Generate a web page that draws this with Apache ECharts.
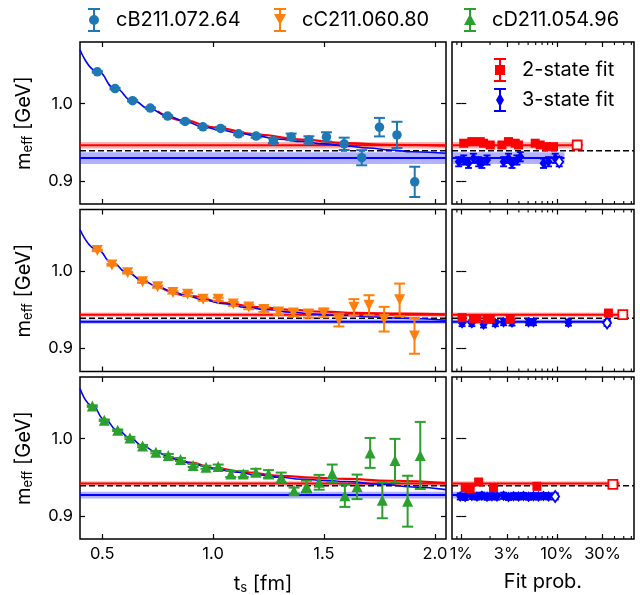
<!DOCTYPE html>
<html><head><meta charset="utf-8">
<script src="https://cdn.jsdelivr.net/npm/echarts@6/dist/echarts.min.js"></script>
<style>html,body{margin:0;padding:0;background:#fff}#c{width:640px;height:595px}</style>
</head><body><div id="c"></div><script>
// ---------------- data ----------------
const ensembles = ['cB211.072.64', 'cC211.060.80', 'cD211.054.96'];
const tsTicks = [0.5, 1.0, 1.5, 2.0];
const mTicks = [0.9, 1.0];
const probTicks = [1, 3, 10, 30];
const probMinor = [0.9, 2, 4, 5, 6, 7, 8, 9, 20, 40, 50, 60];
const nucleonMass = 0.9389;

const tB = [0.478,0.558,0.637,0.717,0.795,0.874,0.954,1.034,1.115,1.194,1.272,1.352,1.432,1.511,1.591,1.670,1.750,1.829,1.909];
const mB = [1.0413,1.0196,1.0039,0.9944,0.984,0.977,0.970,0.968,0.961,0.958,0.952,0.957,0.953,0.957,0.948,0.930,0.9696,0.9596,0.8987];
const eB = [0.001,0.001,0.001,0.001,0.001,0.0015,0.0015,0.002,0.002,0.002,0.003,0.0043,0.0048,0.006,0.008,0.0098,0.012,0.017,0.0196];

const tC = [0.478,0.544,0.615,0.682,0.750,0.819,0.885,0.955,1.023,1.091,1.161,1.229,1.295,1.362,1.430,1.499,1.567,1.635,1.703,1.771,1.841,1.908];
const mC = [1.027,1.0082,0.998,0.9864,0.980,0.9725,0.970,0.9637,0.9637,0.9576,0.9537,0.9503,0.947,0.9458,0.9445,0.9458,0.9367,0.9533,0.9559,0.9378,0.963,0.916];
const eC = [0.001,0.001,0.001,0.0015,0.0015,0.0015,0.002,0.002,0.002,0.0025,0.003,0.003,0.0035,0.004,0.0048,0.0055,0.0083,0.0105,0.013,0.016,0.021,0.023];

const tD = [0.4554,0.5095,0.570,0.625,0.682,0.742,0.798,0.853,0.910,0.968,1.023,1.080,1.136,1.193,1.250,1.307,1.365,1.421,1.478,1.537,1.594,1.649,1.708,1.763,1.820,1.877,1.934];
const mD = [1.0423,1.024,1.011,1.0009,0.9905,0.9826,0.9783,0.9731,0.9653,0.963,0.964,0.9543,0.9543,0.9565,0.9543,0.9496,0.9326,0.938,0.9435,0.955,0.926,0.9376,0.9816,0.9202,0.9718,0.919,0.9783];
const eD = [0.001,0.001,0.001,0.0015,0.0015,0.0015,0.002,0.002,0.002,0.002,0.0025,0.004,0.004,0.0045,0.005,0.0065,0.004,0.0076,0.0096,0.0115,0.0144,0.0159,0.0194,0.0233,0.028,0.033,0.0435];

// fit curves
const fitBlueT_B = [0.4,0.478,0.558,0.637,0.717,0.795,0.874,0.954,1.034,1.115,1.2,1.3,1.4,1.5,1.6,1.7,1.8,1.9,2.05];
const fitBlueM_B = [1.070,1.042,1.020,1.004,0.993,0.984,0.977,0.970,0.966,0.962,0.958,0.954,0.951,0.948,0.9452,0.9425,0.940,0.9378,0.9357];
const fitRedT_B = [0.75,0.874,1.0,1.2,1.4,1.6,1.8,2.05];
const fitRedM_B = [0.990,0.978,0.9695,0.960,0.9535,0.9488,0.9468,0.9458];

const fitBlueT_C = [0.4,0.478,0.544,0.615,0.682,0.75,0.819,0.885,0.955,1.05,1.15,1.25,1.35,1.45,1.55,1.62,1.7,1.85,2.05];
const fitBlueM_C = [1.054,1.028,1.011,0.998,0.988,0.980,0.973,0.968,0.963,0.958,0.953,0.950,0.947,0.9445,0.943,0.9425,0.941,0.939,0.9365];
const fitRedT_C = [0.75,0.9,1.05,1.2,1.35,1.5,1.65,1.85,2.05];
const fitRedM_C = [0.981,0.968,0.959,0.9535,0.950,0.9475,0.946,0.945,0.944];

const fitBlueT_D = [0.4,0.455,0.51,0.57,0.625,0.682,0.742,0.8,0.853,0.91,1.0,1.1,1.2,1.3,1.4,1.5,1.6,1.75,1.9,2.05];
const fitBlueM_D = [1.065,1.043,1.025,1.011,1.001,0.991,0.983,0.977,0.972,0.967,0.961,0.957,0.953,0.950,0.9475,0.946,0.9445,0.941,0.9375,0.934];
const fitRedT_D = [0.8,0.9,1.0,1.15,1.3,1.45,1.6,1.8,2.05];
const fitRedM_D = [0.977,0.969,0.962,0.9565,0.952,0.9495,0.948,0.9455,0.9425];

// final fit results (bands)
const band2Mass = [0.9462, 0.9437, 0.9420];
const band2Err  = [0.0043, 0.0028, 0.0030];
const band3Mass = [0.9295, 0.9346, 0.9269];
const band3Err  = [0.0076, 0.0028, 0.0043];
const band2End  = [18.5, 55, 45];     // % fit prob. where band stops (right panels)
const band3End  = [12, 37, 10.4];

// fit-probability panels: 2-state fits
const p2B = [1.06,1.29,1.58,1.71,2.01,2.66,3.12,3.67,3.97,5.93,6.69,7.86,9.22];
const m2B = [0.9488,0.9509,0.9509,0.9488,0.9465,0.9465,0.9509,0.9488,0.9465,0.9488,0.9465,0.9443,0.9443];
const e2B = [0.003,0.003,0.003,0.003,0.003,0.003,0.003,0.003,0.003,0.003,0.003,0.003,0.003];
const sel2B = [16.3, 0.9465, 0.003];
const p3B = [0.94,1.06,1.19,1.34,1.52,1.64,1.86,2.77,3.12,3.39,3.82,4.14,7.24,8.17,9.6];
const m3B = [0.9248,0.927,0.9227,0.9292,0.9248,0.9227,0.927,0.9248,0.9292,0.9227,0.927,0.9313,0.9227,0.9248,0.9292];
const e3B = [0.006,0.006,0.006,0.006,0.006,0.006,0.006,0.006,0.006,0.006,0.006,0.006,0.006,0.006,0.006];
const sel3B = [10.57, 0.9248, 0.006];

const p2C = [1.02,1.34,1.46,1.86,2.01,3.25,34.6];
const m2C = [0.9398,0.9385,0.9385,0.9376,0.9385,0.9376,0.9458];
const e2C = [0.003,0.003,0.003,0.003,0.003,0.003,0.003];
const sel2C = [48.9, 0.9437, 0.003];
const p3C = [1.02,1.29,1.71,2.27,2.77,3.39,5.05,5.69,13.2];
const m3C = [0.9327,0.9327,0.931,0.9327,0.934,0.9335,0.934,0.934,0.9333];
const e3C = [0.004,0.004,0.004,0.004,0.004,0.004,0.004,0.004,0.004];
const sel3C = [33.5, 0.933, 0.004];

const p2D = [1.10,1.24,1.52,2.17,6.18];
const m2D = [0.9366,0.9352,0.9439,0.9366,0.9383];
const e2D = [0.004,0.004,0.004,0.004,0.004];
const sel2D = [38.5, 0.9409, 0.004];
const p3D = [0.976,1.10,1.29,1.46,1.64,1.86,2.09,2.36,2.77,3.12,3.52,3.97,4.47,5.05,5.69,6.42,7.24,8.17];
const m3D = [0.9252,0.9245,0.9258,0.925,0.9262,0.9248,0.9255,0.925,0.926,0.9245,0.9255,0.925,0.9258,0.9248,0.9255,0.925,0.9258,0.9252];
const e3D = [0.004,0.004,0.004,0.004,0.004,0.004,0.004,0.004,0.004,0.004,0.004,0.004,0.004,0.004,0.004,0.004,0.004,0.004];
const sel3D = [9.6, 0.9252, 0.004];

// ---------------- build ----------------
const FONT = 'Inter';
const TS_MIN = 0.4, TS_MAX = 2.05, M_MIN = 0.87, M_MAX = 1.08, P_MIN = 0.8, P_MAX = 64;
const lg = v => Math.log10(v);
const colors = ['#1f77b4', '#ff7f0e', '#2ca02c'];
const RED = '#ff0000', BLUE = '#0000ff';

const rows = [
  {t:tB, m:mB, e:eB, bt:fitBlueT_B, bm:fitBlueM_B, rt:fitRedT_B, rm:fitRedM_B, symbol:'circle', size:9.5, rot:0,
   p2:p2B, m2:m2B, e2:e2B, s2:sel2B, p3:p3B, m3:m3B, e3:e3B, s3:sel3B},
  {t:tC, m:mC, e:eC, bt:fitBlueT_C, bm:fitBlueM_C, rt:fitRedT_C, rm:fitRedM_C, symbol:'triangle', size:11, rot:180,
   p2:p2C, m2:m2C, e2:e2C, s2:sel2C, p3:p3C, m3:m3C, e3:e3C, s3:sel3C},
  {t:tD, m:mD, e:eD, bt:fitBlueT_D, bm:fitBlueM_D, rt:fitRedT_D, rm:fitRedM_D, symbol:'triangle', size:11, rot:0,
   p2:p2D, m2:m2D, e2:e2D, s2:sel2D, p3:p3D, m3:m3D, e3:e3D, s3:sel3D}
];

const rowTop = [42, 209.5, 377], rowH = 162;
const grids = [], xAxes = [], yAxes = [], series = [];
const tickStyle = {color:'#000', width:1.2};
const TICK_FS = 16.5, NAME_FS = 20, LEG_FS = 20;
const richName = {
  a:{fontSize:NAME_FS, fontFamily:FONT, color:'#000'},
  b:{fontSize:13, fontFamily:FONT, color:'#000', padding:[10,0,0,0]}
};

function addGrid(left, top, width, height){
  grids.push({left, top, width, height, show:true, borderColor:'#000', borderWidth:1.5,
    backgroundColor:'transparent', outerBoundsMode:'none'});
  return grids.length - 1;
}
function addX(o){ xAxes.push(Object.assign({type:'value', axisLine:{show:false}, splitLine:{show:false}}, o)); return xAxes.length - 1; }
function addY(o){ yAxes.push(Object.assign({type:'value', axisLine:{show:false}, splitLine:{show:false}}, o)); return yAxes.length - 1; }

function errSeries(xi, yi, data, color, capW, lw, z){
  return {type:'custom', xAxisIndex:xi, yAxisIndex:yi, z, silent:true, data, encode:{x:0, y:1},
    renderItem:(params, api)=>{
      const x = api.value(0), y = api.value(1), e = api.value(2);
      const a = api.coord([x, y + e]), b = api.coord([x, y - e]);
      const st = {stroke:color, lineWidth:lw};
      return {type:'group', children:[
        {type:'line', shape:{x1:a[0], y1:a[1], x2:b[0], y2:b[1]}, style:st},
        {type:'line', shape:{x1:a[0]-capW/2, y1:a[1], x2:a[0]+capW/2, y2:a[1]}, style:st},
        {type:'line', shape:{x1:b[0]-capW/2, y1:b[1], x2:b[0]+capW/2, y2:b[1]}, style:st}
      ]};
    }};
}
function bandSeries(xi, yi, x0, x1, y, e, color, fill, z){
  return {type:'custom', xAxisIndex:xi, yAxisIndex:yi, z, silent:true, data:[[x0, y, e, x1]], encode:{x:0, y:1},
    renderItem:(params, api)=>{
      const X0 = api.value(0), Y = api.value(1), E = api.value(2), X1 = api.value(3);
      const a = api.coord([X0, Y + E]), b = api.coord([X1, Y - E]);
      const c0 = api.coord([X0, Y]), c1 = api.coord([X1, Y]);
      return {type:'group', children:[
        {type:'rect', shape:{x:a[0], y:a[1], width:b[0]-a[0], height:b[1]-a[1]}, style:{fill}},
        {type:'line', shape:{x1:c0[0], y1:c0[1], x2:c1[0], y2:c1[1]}, style:{stroke:color, lineWidth:2}}
      ]};
    }};
}
// minor ticks of the log axis, placed through the axis scale
function minorTickSeries(xi, yi, vals){
  return {type:'custom', xAxisIndex:xi, yAxisIndex:yi, z:10, silent:true, clip:false,
    data:vals.map(v => [v, M_MIN]), encode:{x:0, y:1},
    renderItem:(params, api)=>{
      const cs = params.coordSys;
      const x = api.coord([api.value(0), api.value(1)])[0];
      const st = {stroke:'#000', lineWidth:1.1};
      return {type:'group', children:[
        {type:'line', shape:{x1:x, y1:cs.y + cs.height, x2:x, y2:cs.y + cs.height - 3}, style:st},
        {type:'line', shape:{x1:x, y1:cs.y, x2:x, y2:cs.y + 3}, style:st}
      ]};
    }};
}
function dashSeries(xi, yi, x0, x1){
  return {type:'line', xAxisIndex:xi, yAxisIndex:yi, z:3, silent:true, symbol:'none',
    data:[[x0, nucleonMass], [x1, nucleonMass]], lineStyle:{color:'#000', width:1.5, type:[6,3]}};
}
const zip = (a, b) => a.map((v, i) => [v, b[i]]);
const zip3 = (a, b, c) => a.map((v, i) => [v, b[i], c[i]]);

rows.forEach((R, r) => {
  const isBottom = r === 2;
  // ---- left panel ----
  const gL = addGrid(80, rowTop[r], 366, rowH);
  const xb = addX({gridIndex:gL, position:'bottom', min:TS_MIN, max:TS_MAX,
    axisTick:{inside:true, length:5, customValues:tsTicks, lineStyle:tickStyle},
    axisLabel:{show:isBottom, customValues:tsTicks, formatter:v=>v.toFixed(1), color:'#000', fontSize:TICK_FS, fontFamily:FONT, margin:7},
    name: isBottom ? '{a|t}{b|s}{a| [fm]}' : '', nameLocation:'middle', nameGap:33,
    nameTextStyle:{rich:richName}});
  addX({gridIndex:gL, position:'top', min:TS_MIN, max:TS_MAX,
    axisTick:{inside:true, length:5, customValues:tsTicks, lineStyle:tickStyle}, axisLabel:{show:false}});
  const yl = addY({gridIndex:gL, position:'left', min:M_MIN, max:M_MAX,
    axisTick:{inside:true, length:5, customValues:mTicks, lineStyle:tickStyle},
    axisLabel:{customValues:mTicks, formatter:v=>v.toFixed(1), color:'#000', fontSize:TICK_FS, fontFamily:FONT, margin:7},
    name:'{a|m}{b|eff}{a| [GeV]}', nameLocation:'middle', nameRotate:90, nameGap:45,
    nameTextStyle:{rich:richName}});
  addY({gridIndex:gL, position:'right', min:M_MIN, max:M_MAX,
    axisTick:{inside:true, length:5, customValues:mTicks, lineStyle:tickStyle}, axisLabel:{show:false}});

  series.push(bandSeries(xb, yl, TS_MIN, TS_MAX, band2Mass[r], band2Err[r], RED, 'rgba(255,0,0,0.3)', 1));
  series.push(bandSeries(xb, yl, TS_MIN, TS_MAX, band3Mass[r], band3Err[r], BLUE, 'rgba(0,0,255,0.3)', 1));
  series.push(dashSeries(xb, yl, TS_MIN, TS_MAX));
  series.push({type:'line', xAxisIndex:xb, yAxisIndex:yl, z:4, silent:true, symbol:'none', smooth:true, smoothMonotone:'x',
    data:zip(R.rt, R.rm), lineStyle:{color:RED, width:2.2}});
  series.push({type:'line', xAxisIndex:xb, yAxisIndex:yl, z:5, silent:true, symbol:'none', smooth:true, smoothMonotone:'x',
    data:zip(R.bt, R.bm), lineStyle:{color:BLUE, width:1.6}});
  series.push(errSeries(xb, yl, zip3(R.t, R.m, R.e), colors[r], 11, 2, 6));
  series.push({type:'scatter', name:ensembles[r], xAxisIndex:xb, yAxisIndex:yl, z:7, silent:true,
    symbol:R.symbol, symbolSize:R.size, symbolRotate:R.rot, data:zip(R.t, R.m),
    itemStyle:{color:colors[r], opacity:1}});

  // ---- right panel (fit probability, log scale) ----
  const gR = addGrid(452, rowTop[r], 182, rowH);
  const pmin = lg(P_MIN), pmax = lg(P_MAX);
  const majorVals = probTicks.map(lg), minorVals = probMinor.map(lg);
  const xr = addX({gridIndex:gR, position:'bottom', min:pmin, max:pmax,
    axisTick:{inside:true, length:5, customValues:majorVals, lineStyle:tickStyle},
    axisLabel:{show:isBottom, customValues:majorVals, formatter:v=>Math.round(Math.pow(10, v)) + '%', color:'#000', fontSize:TICK_FS, fontFamily:FONT, margin:7},
    name: isBottom ? 'Fit prob.' : '', nameLocation:'middle', nameGap:33,
    nameTextStyle:{fontSize:NAME_FS, fontFamily:FONT, color:'#000'}});
  addX({gridIndex:gR, position:'top', min:pmin, max:pmax,
    axisTick:{inside:true, length:5, customValues:majorVals, lineStyle:tickStyle}, axisLabel:{show:false}});
  const yr = addY({gridIndex:gR, position:'left', min:M_MIN, max:M_MAX,
    axisTick:{inside:true, length:5, customValues:mTicks, lineStyle:tickStyle}, axisLabel:{show:false}});
  addY({gridIndex:gR, position:'right', min:M_MIN, max:M_MAX,
    axisTick:{inside:true, length:5, customValues:mTicks, lineStyle:tickStyle}, axisLabel:{show:false}});

  series.push(minorTickSeries(xr, yr, minorVals));
  series.push(bandSeries(xr, yr, pmin, lg(band2End[r]), band2Mass[r], band2Err[r], RED, 'rgba(255,0,0,0.3)', 1));
  series.push(bandSeries(xr, yr, pmin, lg(band3End[r]), band3Mass[r], band3Err[r], BLUE, 'rgba(0,0,255,0.3)', 1));
  series.push(dashSeries(xr, yr, pmin, pmax));
  const lp2 = R.p2.map(lg), lp3 = R.p3.map(lg);
  series.push(errSeries(xr, yr, zip3(lp3, R.m3, R.e3), BLUE, 7, 1.8, 6));
  series.push({type:'scatter', name:'3-state fit', xAxisIndex:xr, yAxisIndex:yr, z:7, silent:true,
    symbol:'diamond', symbolSize:[8, 11], data:zip(lp3, R.m3), itemStyle:{color:BLUE, opacity:1}});
  series.push(errSeries(xr, yr, [[lg(R.s3[0]), R.s3[1], R.s3[2]]], BLUE, 7, 1.8, 6));
  series.push({type:'scatter', xAxisIndex:xr, yAxisIndex:yr, z:7, silent:true,
    symbol:'diamond', symbolSize:[8, 11], data:[[lg(R.s3[0]), R.s3[1]]],
    itemStyle:{color:'#fff', borderColor:BLUE, borderWidth:1.8, opacity:1}});
  series.push(errSeries(xr, yr, zip3(lp2, R.m2, R.e2), RED, 7, 1.8, 8));
  series.push({type:'scatter', name:'2-state fit', xAxisIndex:xr, yAxisIndex:yr, z:9, silent:true,
    symbol:'rect', symbolSize:9, data:zip(lp2, R.m2), itemStyle:{color:RED, opacity:1}});
  series.push(errSeries(xr, yr, [[lg(R.s2[0]), R.s2[1], R.s2[2]]], RED, 7, 1.8, 8));
  series.push({type:'scatter', xAxisIndex:xr, yAxisIndex:yr, z:9, silent:true,
    symbol:'rect', symbolSize:9, data:[[lg(R.s2[0]), R.s2[1]]],
    itemStyle:{color:'#fff', borderColor:RED, borderWidth:1.8, opacity:1}});
});

// legend icons: error bar + marker
const ICON_CIRCLE = 'path://M1,0h12v2h-12z M6,0h2v24h-2z M1,22h12v2h-12z M7,7a5,5 0 1,1 0,10a5,5 0 1,1 0,-10z';
const ICON_TDOWN  = 'path://M1,0h12v2h-12z M6,0h2v24h-2z M1,22h12v2h-12z M1,6L13,6L7,17z';
const ICON_TUP    = 'path://M1,0h12v2h-12z M6,0h2v24h-2z M1,22h12v2h-12z M7,6L13,17L1,17z';
const ICON_SQUARE = 'path://M1,0h12v2h-12z M6,0h2v24h-2z M1,22h12v2h-12z M2,7h10v10h-10z';
const ICON_DIAM   = 'path://M1,0h12v2h-12z M6,0h2v24h-2z M1,22h12v2h-12z M7,5L11,12L7,19L3,12z';
const legendText = {fontSize:LEG_FS, fontFamily:FONT, color:'#000', padding:[0,0,0,11]};
const legBase = {top:8, padding:0, itemWidth:12, itemHeight:24, selectedMode:false, textStyle:legendText};
const legends = [
  Object.assign({left:88, data:[{name:ensembles[0], icon:ICON_CIRCLE}]}, legBase),
  Object.assign({left:274, data:[{name:ensembles[1], icon:ICON_TDOWN}]}, legBase),
  Object.assign({left:464, data:[{name:ensembles[2], icon:ICON_TUP}]}, legBase),
  {left:494, top:58, padding:0, orient:'vertical', itemGap:6, itemWidth:12, itemHeight:24, selectedMode:false, textStyle:legendText,
   data:[{name:'2-state fit', icon:ICON_SQUARE}, {name:'3-state fit', icon:ICON_DIAM}]}
];

const chart = echarts.init(document.getElementById('c'), null, {renderer:'canvas'});
chart.setOption({
  animation:false,
  backgroundColor:'#fff',
  textStyle:{fontFamily:FONT},
  grid:grids, xAxis:xAxes, yAxis:yAxes, legend:legends, series
});
</script></body></html>
